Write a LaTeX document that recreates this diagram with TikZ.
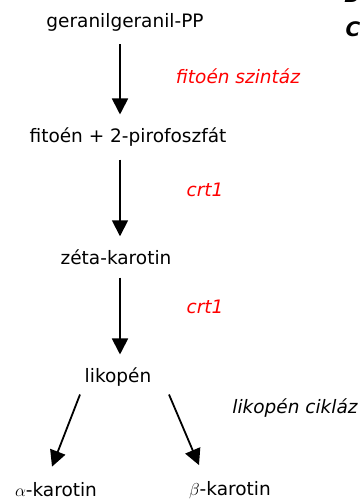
\documentclass[tikz,border=0pt]{standalone}
\usepackage{fontspec}
\setmainfont{DejaVu Sans}
\usetikzlibrary{arrows.meta,calc}

\begin{document}
\begin{tikzpicture}[x=1pt, y=-1pt,
  compound/.style={font=\fontsize{18.5}{22}\selectfont, inner sep=0pt},
  enzyme/.style={font=\fontsize{18.5}{22}\selectfont\itshape, text=red, inner sep=0pt},
  arrow/.style={-{Triangle[length=16pt, width=16pt]}, line width=1.8pt},
  vstep/.style={arrow, shorten <=13pt, shorten >=13pt}
]
\useasboundingbox (0,0) rectangle (362,504);

% pathway
\node[compound] (gpp) at (125,22) {geranilgeranil-PP};
\node[compound] (fito) at (128,137) {fitoén + 2-pirofoszfát};
\node[compound] (zeta) at (116,257) {zéta-karotin};
\node[compound] (lik) at (118,377) {likopén};
\node[compound] (alpha) at (56,490) {$\alpha$-karotin};
\node[compound] (beta) at (230,490) {$\beta$-karotin};

% enzymes
\node[enzyme] (szint) at (238,76) {fitoén szintáz};
\node[enzyme] (crta) at (205,190) {crt1};
\node[enzyme] (crtb) at (205,307) {crt1};
\node[compound, font=\fontsize{18.5}{22}\selectfont\itshape] (cikl) at (295,408) {likopén cikláz};

% cut letters at the edge
\node[font=\fontsize{20}{22}\selectfont\bfseries\itshape] (edgeb) at (352,-5) {B};
\node[font=\fontsize{20}{22}\selectfont\bfseries\itshape] (edgec) at (353,29) {C};

\coordinate (axis) at (120,0);
\draw[vstep] (gpp.south -| axis) -- (fito.north -| axis);
\draw[vstep] (fito.south -| axis) -- (zeta.north -| axis);
\draw[vstep] (zeta.south -| axis) -- (lik.north -| axis);
\draw[arrow] ($(lik.south)+(-38,8)$) -- ($(alpha.north)+(-4,-16)$);
\draw[arrow] ($(lik.south)+(51,8)$) -- ($(beta.north)+(-31,-16)$);

\end{tikzpicture}
\end{document}
